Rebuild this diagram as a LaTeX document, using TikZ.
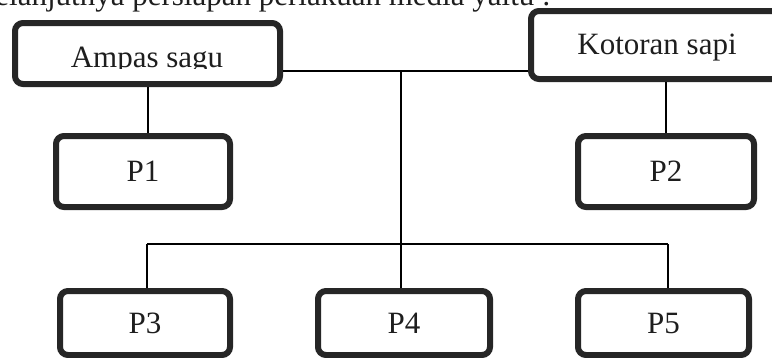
\documentclass[tikz,border=0pt]{standalone}
\usepackage{fontspec}
\setmainfont{Liberation Serif}
\definecolor{boxcol}{HTML}{262626}
\definecolor{txtcol}{HTML}{1E1E1E}
\begin{document}
\begin{tikzpicture}[x=1pt,y=1pt,
  box/.style={draw=boxcol, line width=6pt, rounded corners=8pt, fill=white, inner sep=0pt,
              font=\fontsize{31}{36}\selectfont, text=txtcol},
  conn/.style={draw=black, line width=2pt},
  lbl/.style={font=\fontsize{31}{36}\selectfont, text=txtcol, inner sep=0pt}]
\useasboundingbox (0,0) rectangle (772,-357);
\clip (0,0) rectangle (772,-357);

% intro line (cut off at top)
\node[lbl, anchor=base west] (intro) at (-22,-5) {Selanjutnya persiapan perlakuan media yaitu :};

% junction points
\coordinate (top) at (401,-71);
\coordinate (mid) at (401,-244);
\coordinate (c3) at (147,-244);
\coordinate (c5) at (668,-244);

% boxes
\node[box, minimum width=265pt, minimum height=61pt] (ampas) at (147.5,-53.5) {};
\node[box, minimum width=259pt, minimum height=68pt] (kotoran) at (660.5,-45) {};
\node[box, minimum width=174pt, minimum height=71pt] (p1) at (143,-171.5) {P1};
\node[box, minimum width=176pt, minimum height=71pt] (p2) at (666,-171.5) {P2};
\node[box, minimum width=170pt, minimum height=64pt] (p3) at (145,-323) {P3};
\node[box, minimum width=172pt, minimum height=64pt] (p4) at (404,-323) {P4};
\node[box, minimum width=171pt, minimum height=64pt] (p5) at (663.5,-323) {P5};

% texts of the top boxes
\begin{scope}
  \clip (0,0) rectangle (300,-68);
  \node[lbl, anchor=base] (ampastxt) at (147,-67) {Ampas sagu};
\end{scope}
\node[lbl, anchor=base] (kottxt) at (657,-54) {Kotoran sapi};

% connectors
\draw[conn] (ampas.east |- top) -- (kotoran.west |- top);
\draw[conn] (ampas.south) -- (ampas.south |- p1.north);
\draw[conn] (kotoran.south -| p2.north) -- (p2.north);
\draw[conn] (top) -- (mid);
\draw[conn] (c3) -- (c5);
\draw[conn] (c3) -- (c3 |- p3.north);
\draw[conn] (mid) -- (mid |- p4.north);
\draw[conn] (c5) -- (c5 |- p5.north);
\end{tikzpicture}
\end{document}
